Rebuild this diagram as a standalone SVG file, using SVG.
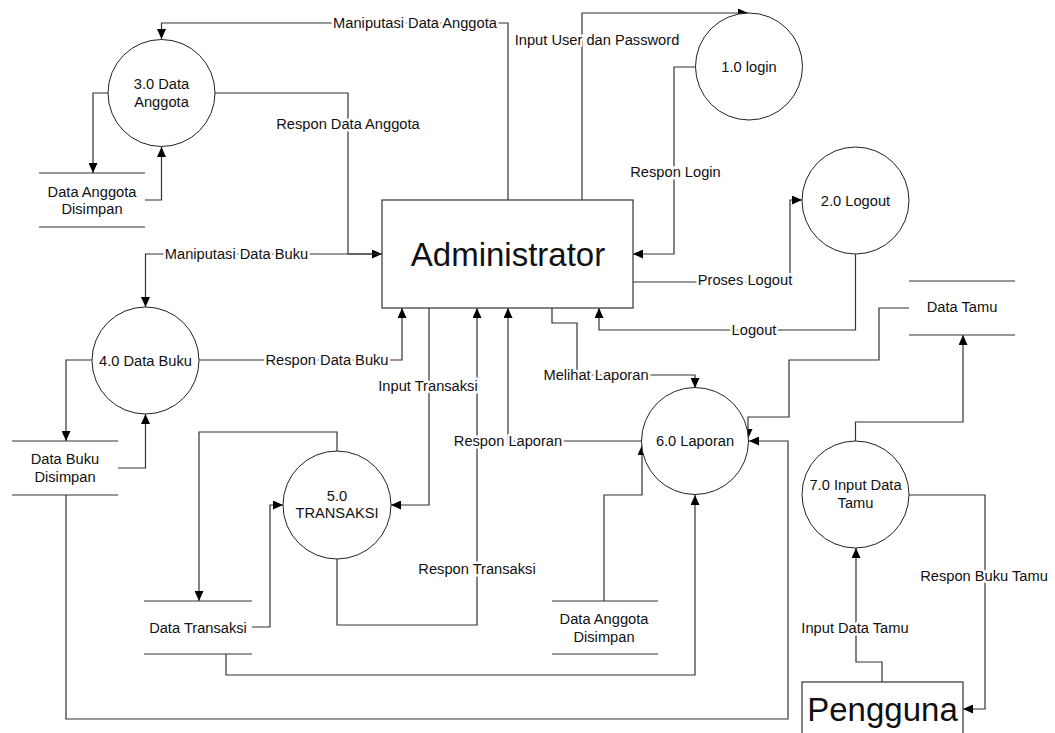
<svg xmlns="http://www.w3.org/2000/svg" width="1055" height="733" viewBox="0 0 1055 733">
<style>
.c{fill:#fff;stroke:#222;stroke-width:1}
.s{stroke:#333;stroke-width:1.2;fill:none}
.e{fill:#fff;stroke:#333;stroke-width:1.2}
.t{font-family:"Liberation Sans",Arial,sans-serif;font-size:14.67px;fill:#111;text-anchor:middle}
.big{font-family:"Liberation Sans",Arial,sans-serif;font-size:33px;fill:#111;text-anchor:middle}
.l{font-family:"Liberation Sans",Arial,sans-serif;font-size:14.67px;fill:#111;text-anchor:middle;stroke:#fff;stroke-width:5;paint-order:stroke;stroke-linejoin:round}
#conn path{fill:none;stroke:#333;stroke-width:1.2}
</style>
<defs>
<marker id="a" markerUnits="userSpaceOnUse" markerWidth="11" markerHeight="9" refX="10" refY="4.5" orient="auto"><path d="M0,0 L10,4.5 L0,9 z" fill="#000"/></marker>
</defs>
<rect width="1055" height="733" fill="#fff"/>
<g id="conn">
<path d="M508,200 V23 H161.5 V39" marker-end="url(#a)"/>
<path d="M215,93 H348 V254 H382" marker-end="url(#a)"/>
<path d="M382,254 H145.5 V307" marker-end="url(#a)"/>
<path d="M108,93 H93 V173" marker-end="url(#a)"/>
<path d="M145,200 H161.5 V147" marker-end="url(#a)"/>
<path d="M92,360 H66 V441" marker-end="url(#a)"/>
<path d="M118,468 H145.5 V414" marker-end="url(#a)"/>
<path d="M199,360 H402 V308" marker-end="url(#a)"/>
<path d="M66,495 V719 H788 V441 H749" marker-end="url(#a)"/>
<path d="M429,308 V505 H391" marker-end="url(#a)"/>
<path d="M337,559 V625 H477 V308" marker-end="url(#a)"/>
<path d="M337,451 V432 H199 V601" marker-end="url(#a)"/>
<path d="M252,627 H270 V505 H283" marker-end="url(#a)"/>
<path d="M226,654 V675 H695 V495" marker-end="url(#a)"/>
<path d="M642,441 H508 V308" marker-end="url(#a)"/>
<path d="M604,601 V495 H642 V445" marker-end="url(#a)"/>
<path d="M552,308 V323 H577 V375 H695 V388" marker-end="url(#a)"/>
<path d="M855.5,254 V330 H599 V308" marker-end="url(#a)"/>
<path d="M633,282 H790 V200 H802" marker-end="url(#a)"/>
<path d="M582,200 V13 H748" marker-end="url(#a)"/>
<path d="M696,67 H674 V254 H633" marker-end="url(#a)"/>
<path d="M855.5,441 V422 H963 V335" marker-end="url(#a)"/>
<path d="M909,308 H879 V360 H789 V417 H748 V439" marker-end="url(#a)"/>
<path d="M909,495 H985 V709 H963" marker-end="url(#a)"/>
<path d="M882,682 V662 H856 V548" marker-end="url(#a)"/>
<text class="l" x="415" y="28">Maniputasi Data Anggota</text>
<text class="l" x="348" y="129">Respon Data Anggota</text>
<text class="l" x="236.5" y="259">Maniputasi Data Buku</text>
<text class="l" x="327" y="365">Respon Data Buku</text>
<text class="l" x="428" y="391">Input Transaksi</text>
<text class="l" x="477" y="574">Respon Transaksi</text>
<text class="l" x="508" y="446">Respon Laporan</text>
<text class="l" x="596" y="380">Melihat Laporan</text>
<text class="l" x="754" y="335">Logout</text>
<text class="l" x="745" y="285">Proses Logout</text>
<text class="l" x="597" y="45">Input User dan Password</text>
<text class="l" x="675.5" y="177">Respon Login</text>
<text class="l" x="984" y="581">Respon Buku Tamu</text>
<text class="l" x="855" y="633">Input Data Tamu</text>
</g>
<g id="admin"><rect class="e" x="382" y="200" width="251" height="108"/><text class="big" x="508" y="266">Administrator</text></g>
<g id="pengguna"><rect class="e" x="802" y="682" width="161" height="70"/><text class="big" x="882.5" y="721">Pengguna</text></g>
<g id="p1"><circle class="c" cx="749" cy="66.5" r="53.5"/><text class="t" x="749" y="72">1.0 login</text></g>
<g id="p2"><circle class="c" cx="855.5" cy="200.5" r="53.5"/><text class="t" x="855.5" y="206">2.0 Logout</text></g>
<g id="p3"><circle class="c" cx="161.5" cy="93" r="53.5"/><text class="t" x="161.5" y="89">3.0 Data</text><text class="t" x="161.5" y="107">Anggota</text></g>
<g id="p4"><circle class="c" cx="145.5" cy="360.5" r="53.5"/><text class="t" x="145.5" y="366">4.0 Data Buku</text></g>
<g id="p5"><circle class="c" cx="337" cy="505" r="54"/><text class="t" x="337" y="501">5.0</text><text class="t" x="337" y="518">TRANSAKSI</text></g>
<g id="p6"><circle class="c" cx="695" cy="441" r="53.5"/><text class="t" x="695" y="446">6.0 Laporan</text></g>
<g id="p7"><circle class="c" cx="855.5" cy="494.5" r="53.5"/><text class="t" x="855.5" y="490">7.0 Input Data</text><text class="t" x="855.5" y="508">Tamu</text></g>
<g id="ds1"><path class="s" d="M39,173 H145 M39,227 H145"/><text class="t" x="92" y="197">Data Anggota</text><text class="t" x="92" y="214">Disimpan</text></g>
<g id="ds2"><path class="s" d="M12,441 H118 M12,495 H118"/><text class="t" x="65" y="464">Data Buku</text><text class="t" x="65" y="482">Disimpan</text></g>
<g id="ds3"><path class="s" d="M144,601 H252 M144,654 H252"/><text class="t" x="198" y="633">Data Transaksi</text></g>
<g id="ds4"><path class="s" d="M552,601 H658 M552,654 H658"/><text class="t" x="604" y="624">Data Anggota</text><text class="t" x="604" y="642">Disimpan</text></g>
<g id="ds5"><path class="s" d="M909,281 H1015 M909,335 H1015"/><text class="t" x="962" y="312">Data Tamu</text></g>
</svg>
